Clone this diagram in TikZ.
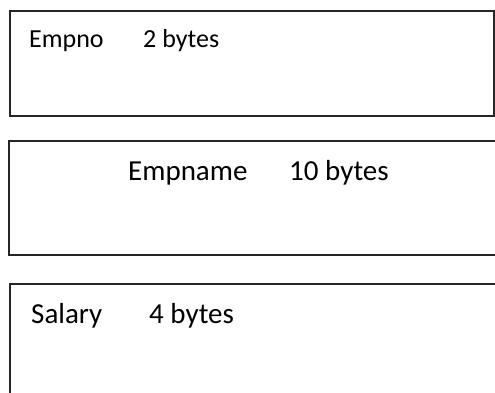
\documentclass[tikz,border=0pt]{standalone}
\usepackage{fontspec}
\setmainfont{Carlito}
\begin{document}
\begin{tikzpicture}[x=1pt,y=-1pt]
\tikzset{field/.style={draw=black!85,line width=1.3pt},
  lbl/.style={anchor=base west,inner sep=0pt,font=\fontsize{26}{30}\selectfont},
  biglbl/.style={lbl,font=\fontsize{29}{33}\selectfont}}
\useasboundingbox (0,0) rectangle (495,392);
\clip (0,0) rectangle (495,392);
\draw[field] (10,11) rectangle (494,116);
\draw[field] (9,141) rectangle (510,255);
\draw[field] (10,284) rectangle (510,410);
\node[lbl] (empno) at (29,47) {Empno};
\node[lbl] (empnosize) at (143,47) {2 bytes};
\node[biglbl] (empname) at (128,180) {Empname};
\node[biglbl] (empnamesize) at (289,180) {10 bytes};
\node[biglbl] (salary) at (31,323) {Salary};
\node[biglbl] (salarysize) at (149,323) {4 bytes};
\end{tikzpicture}
\end{document}
